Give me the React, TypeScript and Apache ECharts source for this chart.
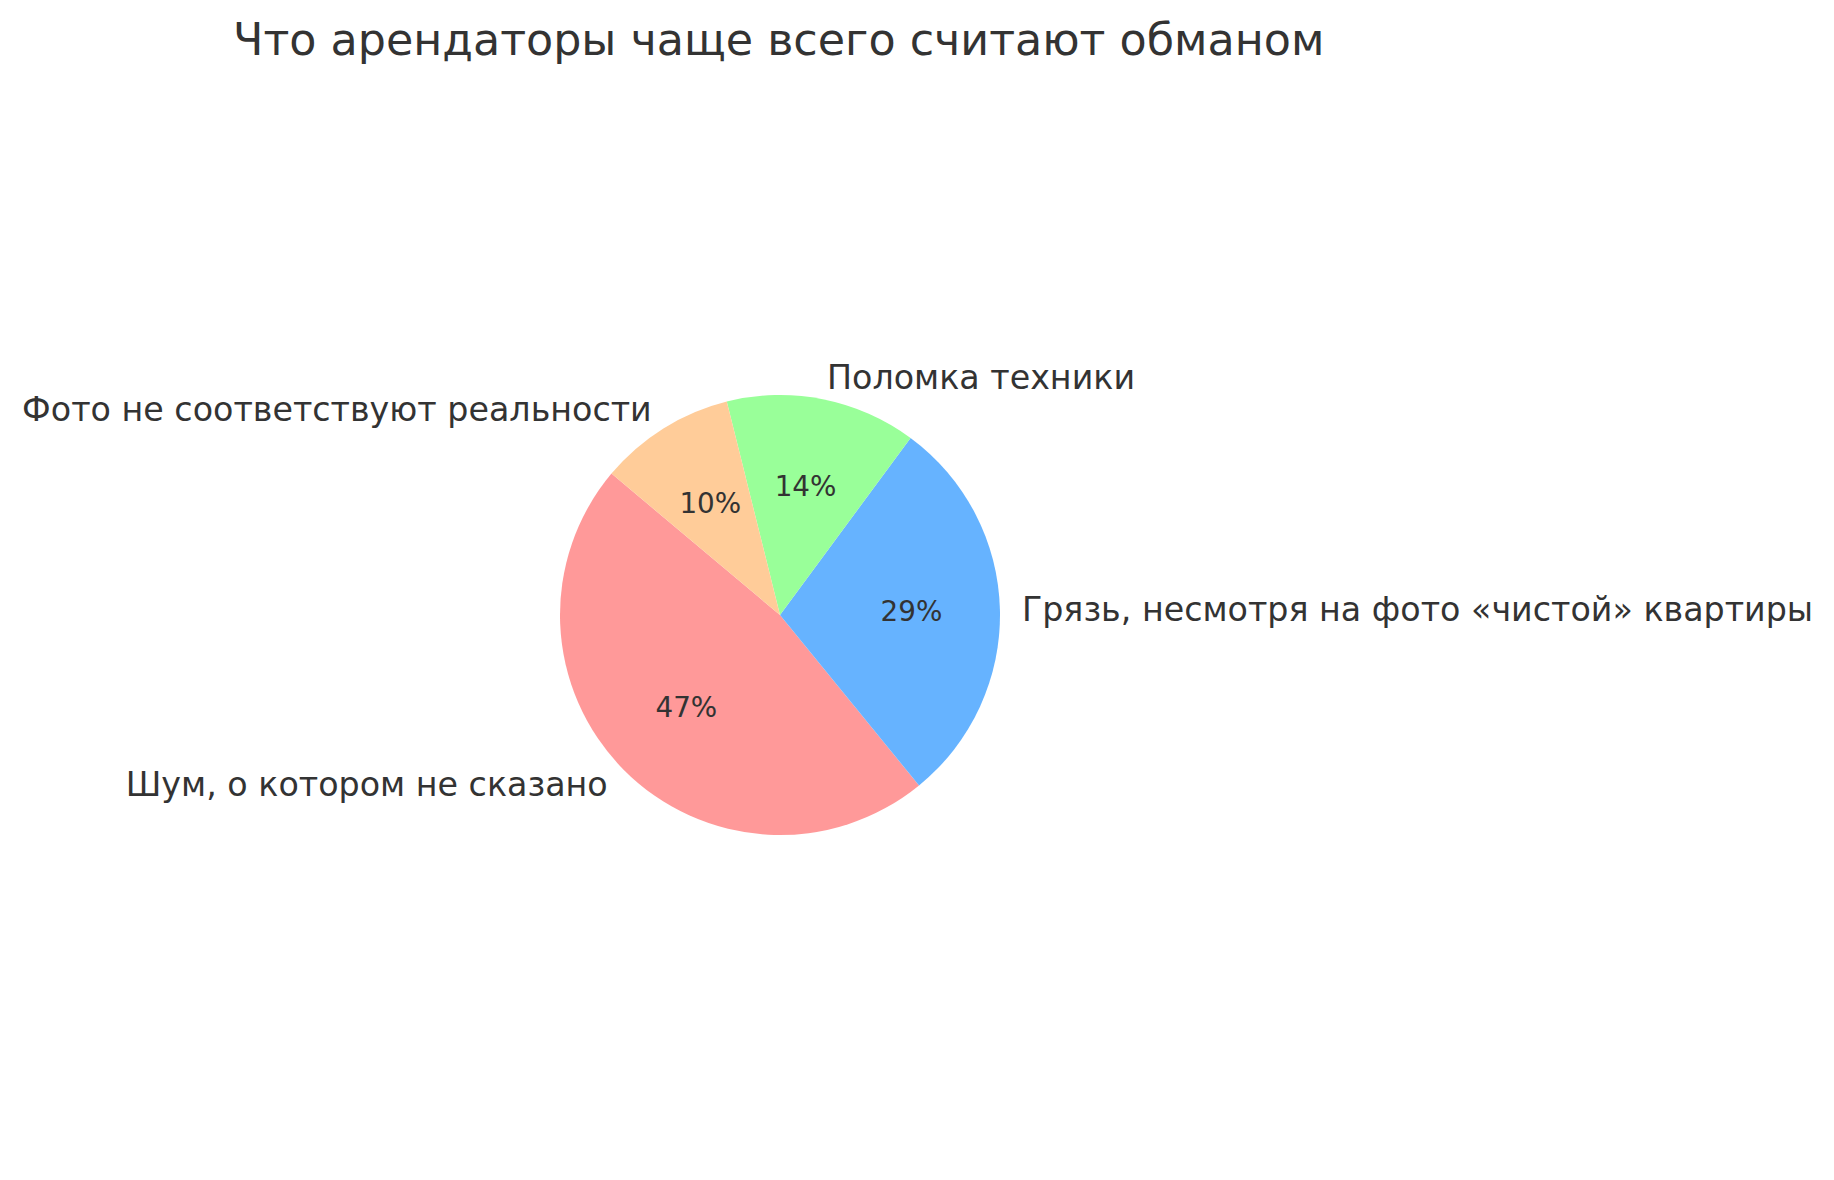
import { useEffect, useRef } from 'react';
import * as echarts from 'echarts';

// Chart data
const title = 'Что арендаторы чаще всего считают обманом';
const categories = [
  'Шум, о котором не сказано',
  'Грязь, несмотря на фото «чистой» квартиры',
  'Поломка техники',
  'Фото не соответствуют реальности',
];
const values = [47, 29, 14, 10];
const colors = ['#ff9999', '#66b3ff', '#99ff99', '#ffcc99'];

const FONT = '"DejaVu Sans", sans-serif';
const TEXT = '#333333';
const CENTER = [780, 615];
const R = 220;

export default function App() {
  const chartRef = useRef<HTMLDivElement>(null);

  useEffect(() => {
    document.body.style.margin = '0';
    if (!chartRef.current) {
      return;
    }
    const chart = echarts.init(chartRef.current, null, { renderer: 'svg' });

    const data = categories.map((name, i) => ({
      name,
      value: values[i],
      itemStyle: { color: colors[i] },
    }));

    const option: echarts.EChartsOption = {
      animation: false,
      backgroundColor: '#ffffff',
      title: {
        text: title,
        left: 228,
        top: 12,
        textStyle: {
          fontFamily: FONT,
          fontSize: 44.4,
          fontWeight: 'normal',
          color: TEXT,
        },
      },
      series: [
        {
          // wedges + outer category labels
          type: 'pie',
          center: CENTER,
          radius: [0, R],
          startAngle: 140,
          clockwise: false,
          avoidLabelOverlap: false,
          silent: true,
          data,
          label: {
            show: true,
            position: 'outside',
            formatter: '{b}',
            fontFamily: FONT,
            fontSize: 33.3,
            color: TEXT,
            distanceToLabelLine: 0,
          },
          labelLine: {
            show: false,
            length: R * 0.1,
            length2: 0,
          },
        },
        {
          // transparent copy, only for the percentage labels at ~0.6 r
          type: 'pie',
          center: CENTER,
          radius: [0, 257],
          startAngle: 140,
          clockwise: false,
          avoidLabelOverlap: false,
          silent: true,
          data: data.map((d) => ({ ...d, itemStyle: { color: 'rgba(0,0,0,0)' } })),
          label: {
            show: true,
            position: 'inside',
            formatter: (p: any) => `${Math.round(p.percent)}%`,
            fontFamily: FONT,
            fontSize: 27.8,
            color: TEXT,
          },
          labelLine: { show: false },
        },
      ],
    };

    chart.setOption(option);

    return () => {
      chart.dispose();
    };
  }, []);

  return <div ref={chartRef} style={{ width: '1834px', height: '1180px' }} />;
}
